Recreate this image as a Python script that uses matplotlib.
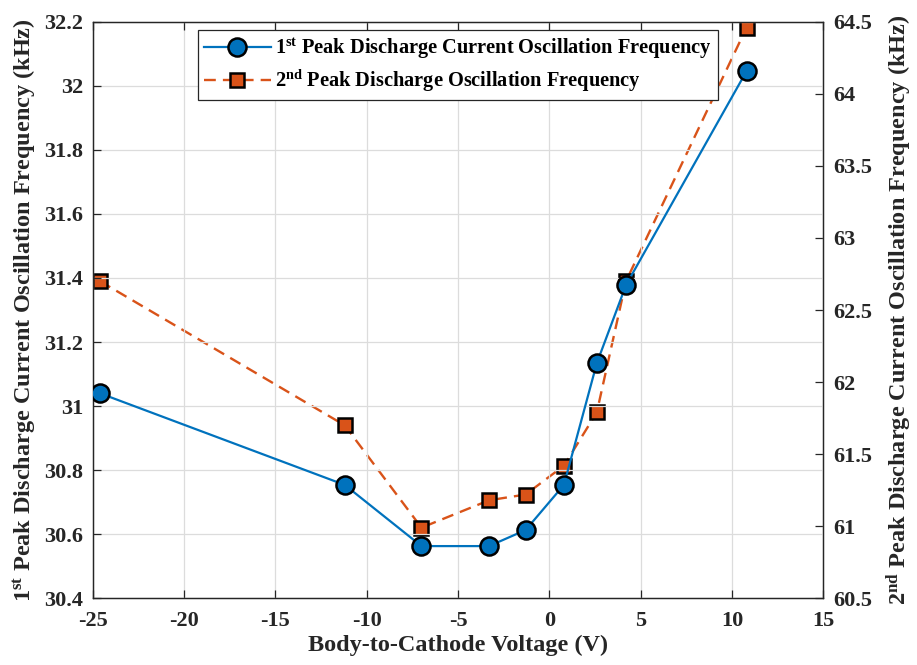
import matplotlib
matplotlib.use("Agg")
import matplotlib.pyplot as plt
from matplotlib.ticker import FuncFormatter

plt.rcParams["font.family"] = ["Liberation Serif", "DejaVu Serif"]
plt.rcParams["font.weight"] = "bold"
plt.rcParams["axes.labelweight"] = "bold"
plt.rcParams["axes.unicode_minus"] = False
plt.rcParams["mathtext.fontset"] = "custom"
plt.rcParams["mathtext.rm"] = "Liberation Serif:bold"
plt.rcParams["mathtext.bf"] = "Liberation Serif:bold"
plt.rcParams["mathtext.it"] = "Liberation Serif:bold"

# Body-to-cathode voltage (V)
voltage = [-24.6, -11.2, -7.0, -3.3, -1.3, 0.8, 2.6, 4.2, 10.8]
# 1st peak discharge current oscillation frequency (kHz)
freq_1st = [31.040, 30.754, 30.563, 30.563, 30.613, 30.754, 31.134, 31.378, 32.046]
# 2nd peak discharge oscillation frequency (kHz)
freq_2nd = [62.70, 61.70, 60.99, 61.18, 61.22, 61.42, 61.79, 62.70, 64.46]

blue = "#0072BD"
orange = "#D95319"
dark = "#262626"
tick_fs = 16
label_fs = 17.5


def short_fmt(v, pos):
    return f"{v:.1f}".rstrip("0").rstrip(".")


fig = plt.figure(figsize=(9.17, 6.65), dpi=100)
ax = fig.add_axes([0.1011, 0.1003, 0.7967, 0.867])
ax2 = ax.twinx()

l1, = ax.plot(voltage, freq_1st, "-", color=blue, lw=1.6, marker="o",
              markersize=13, markerfacecolor=blue, markeredgecolor="black",
              markeredgewidth=1.8, zorder=3)
l2, = ax2.plot(voltage, freq_2nd, linestyle=(0, (5, 3)), color=orange, lw=1.7,
               marker="s", markersize=9.5, markerfacecolor=orange,
               markeredgecolor="black", markeredgewidth=1.8, zorder=3)

ax.set_xlim(-25, 15)
ax.set_ylim(30.4, 32.2)
ax2.set_ylim(60.5, 64.5)
ax.set_xticks(range(-25, 16, 5))
ax.set_yticks([30.4 + 0.2 * i for i in range(10)])
ax2.set_yticks([60.5 + 0.5 * i for i in range(9)])
ax.yaxis.set_major_formatter(FuncFormatter(short_fmt))
ax2.yaxis.set_major_formatter(FuncFormatter(short_fmt))

ax.grid(True, color="#dcdcdc", lw=0.9)
ax.set_axisbelow(True)

for a in (ax, ax2):
    a.tick_params(direction="in", length=6, width=0.9, colors=dark,
                  labelsize=tick_fs, pad=7)
    for s in a.spines.values():
        s.set_color(dark)
        s.set_linewidth(0.9)
ax.tick_params(axis="x", top=True, pad=9)

ax.set_xlabel("Body-to-Cathode Voltage (V)", fontsize=label_fs, color=dark, labelpad=3)
ax.set_ylabel(r"1$^{\rm st}$ Peak Discharge Current Oscillation Frequency (kHz)",
              fontsize=label_fs, color=dark, labelpad=4)
ax2.set_ylabel(r"2$^{\rm nd}$ Peak Discharge Current Oscillation Frequency (kHz)",
               fontsize=label_fs, color=dark, labelpad=9)

leg = ax.legend([l1, l2],
                [r"1$^{\rm st}$ Peak Discharge Current Oscillation Frequency",
                 r"2$^{\rm nd}$ Peak Discharge Oscillation Frequency"],
                loc="upper left", bbox_to_anchor=(0.1435, 0.985), fontsize=14.7,
                fancybox=False, framealpha=1, edgecolor=dark,
                handlelength=3.3, handletextpad=0.2, borderpad=0.3,
                labelspacing=0.3, borderaxespad=0)
leg.get_frame().set_linewidth(0.9)
ax.set_zorder(ax2.get_zorder() + 1)
ax.patch.set_visible(False)

fig.savefig("out.png", dpi=100)
